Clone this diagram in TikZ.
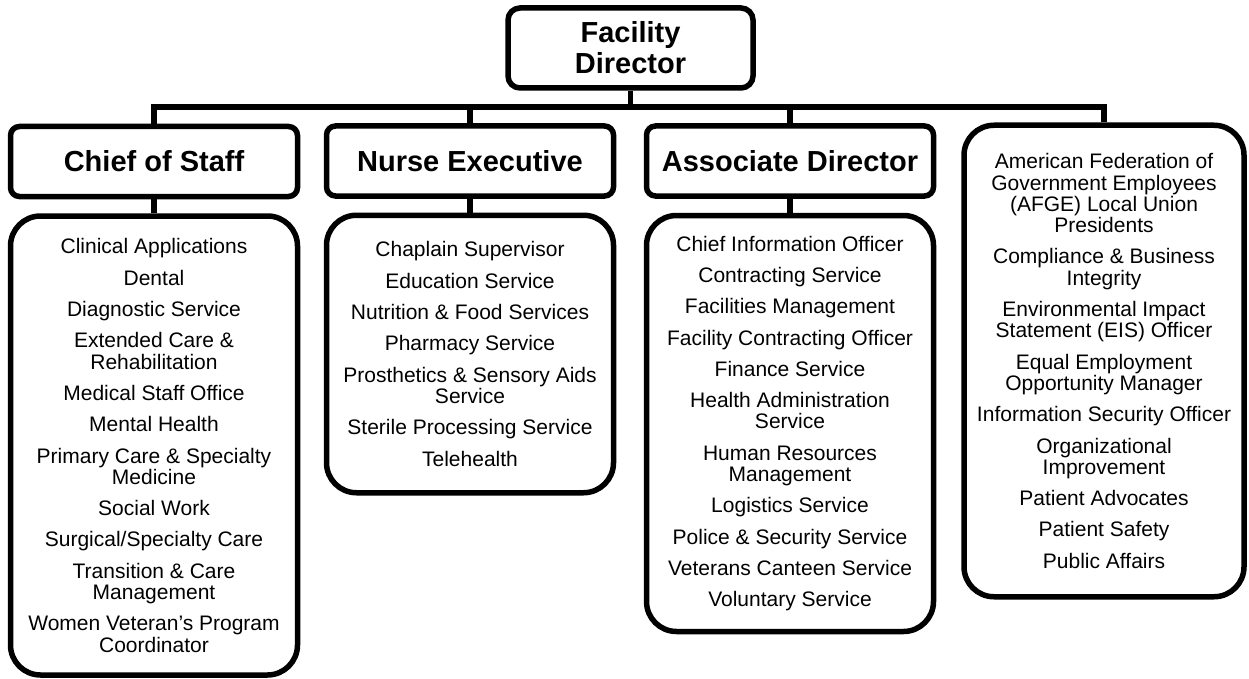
\documentclass[tikz,border=0pt]{standalone}
\usepackage{fontspec}
\setmainfont{Liberation Sans}
\begin{document}
\begin{tikzpicture}[x=1pt,y=-1pt,
  line width=5.5pt, line join=miter,
  top/.style={draw, rounded corners=12pt, minimum width=245pt, minimum height=80pt,
    inner sep=0pt, align=center, font=\fontsize{29}{31}\selectfont\bfseries},
  head/.style={draw, rounded corners=9pt, minimum width=287pt, minimum height=70pt,
    inner sep=0pt, align=center, font=\fontsize{29}{31}\selectfont\bfseries},
  list/.style={draw, rounded corners=30pt, minimum width=287pt, inner sep=0pt,
    align=center, font=\fontsize{21}{21.3}\selectfont},
]
\useasboundingbox (0,0) rectangle (1249,679);

% director and the bus beneath it
\node[top] (fd) at (630.5,48) {Facility\\Director};
\coordinate (bus) at (630.5,107);

% second level
\node[head] (cos) at (154,161.5) {Chief of Staff};
\node[head] (ne)  at (470,161) {Nurse Executive};
\node[head] (ad)  at (790,161) {Associate Director};

% service lists
\node[list, minimum height=459pt] (cosl) at (154,445.5) {%
  Clinical Applications\\[10pt]
  Dental\\[10pt]
  Diagnostic Service\\[10pt]
  Extended Care \&\\Rehabilitation\\[10pt]
  Medical Staff Office\\[10pt]
  Mental Health\\[10pt]
  Primary Care \& Specialty\\Medicine\\[10pt]
  Social Work\\[10pt]
  Surgical/Specialty Care\\[10pt]
  Transition \& Care\\Management\\[10pt]
  Women Veteran\char"0027 s Program\\Coordinator};

\node[list, minimum height=277.5pt] (nel) at (470,354) {%
  Chaplain Supervisor\\[10pt]
  Education Service\\[10pt]
  Nutrition \& Food Services\\[10pt]
  Pharmacy Service\\[10pt]
  Prosthetics \& Sensory Aids\\Service\\[10pt]
  Sterile Processing Service\\[10pt]
  Telehealth};

\node[list, minimum height=416pt] (adl) at (790,423.5) {%
  Chief Information Officer\\[10pt]
  Contracting Service\\[10pt]
  Facilities Management\\[10pt]
  Facility Contracting Officer\\[10pt]
  Finance Service\\[10pt]
  Health Administration\\Service\\[10pt]
  Human Resources\\Management\\[10pt]
  Logistics Service\\[10pt]
  Police \& Security Service\\[10pt]
  Veterans Canteen Service\\[10pt]
  Voluntary Service};

\node[list, minimum width=280pt, minimum height=471.5pt] (staff) at (1104,361) {%
  American Federation of\\Government Employees\\(AFGE) Local Union\\Presidents\\[10pt]
  Compliance \& Business\\Integrity\\[10pt]
  Environmental Impact\\Statement (EIS) Officer\\[10pt]
  Equal Employment\\Opportunity Manager\\[10pt]
  Information Security Officer\\[10pt]
  Organizational\\Improvement\\[10pt]
  Patient Advocates\\[10pt]
  Patient Safety\\[10pt]
  Public Affairs};

% connectors
\draw (fd.south) -- (bus);
\draw (cos.north) |- (bus) -| (staff.north);
\draw (ne.north) -- (ne.north |- bus);
\draw (ad.north) -- (ad.north |- bus);
\draw (cos.south) -- (cosl.north);
\draw (ne.south) -- (nel.north);
\draw (ad.south) -- (adl.north);
\end{tikzpicture}
\end{document}
